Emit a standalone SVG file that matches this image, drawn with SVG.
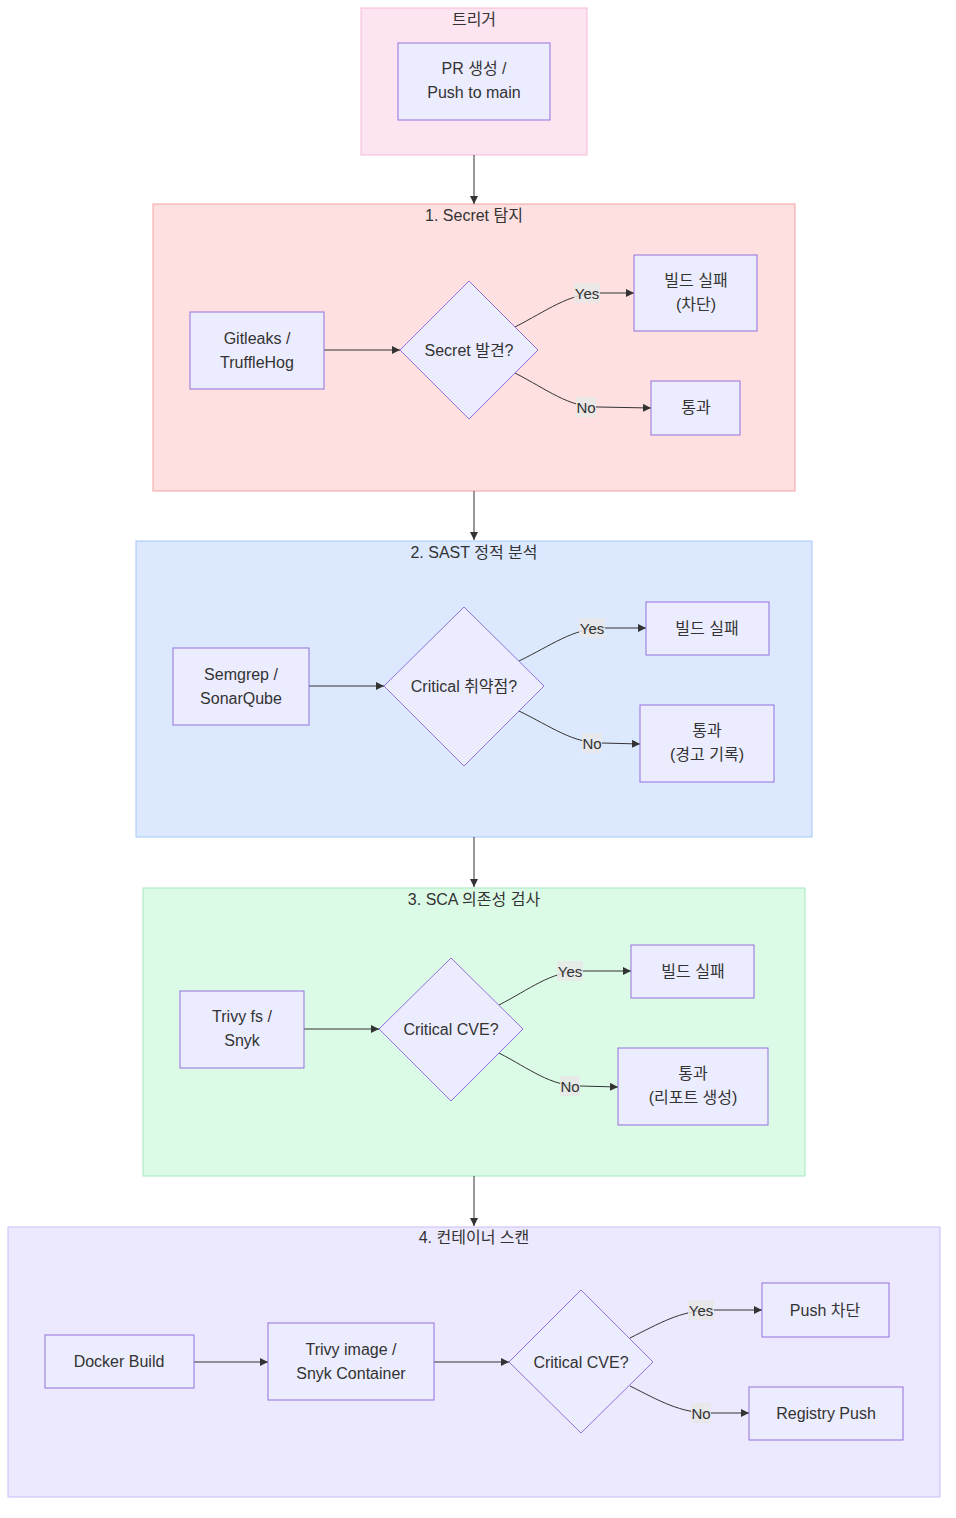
<svg xmlns="http://www.w3.org/2000/svg" width="956" height="1518" viewBox="0 0 956 1518">
<defs>
<marker id="arr" viewBox="0 0 10 10" refX="10" refY="5" markerWidth="8" markerHeight="8" orient="auto" markerUnits="userSpaceOnUse">
<path d="M0,0 L10,5 L0,10 z" fill="#333"/>
</marker>
</defs>
<style>
text{font-family:"Liberation Sans","Noto Sans CJK KR",sans-serif;fill:#333;text-anchor:middle;dominant-baseline:central}
.t{font-size:16px}
.lt{font-size:15px}
.node{fill:#ECECFF;stroke:#9370DB;stroke-width:1}
.edge{fill:none;stroke:#333;stroke-width:1;marker-end:url(#arr)}
.lbg{fill:#e8e8e8;opacity:0.85}
</style>
<rect width="956" height="1518" fill="#ffffff"/>
<g id="clusters">
<g id="c-trigger"><rect x="361" y="8" width="226" height="147" fill="#fce4f1" stroke="#f8b9d8"/><text class="t" x="474" y="19">트리거</text></g>
<g id="c-secret"><rect x="153" y="204" width="642" height="287" fill="#fee0e0" stroke="#f6a3a3"/><text class="t" x="474" y="215">1. Secret 탐지</text></g>
<g id="c-sast"><rect x="136" y="541" width="676" height="296" fill="#dbe8fd" stroke="#a5c8f6"/><text class="t" x="474" y="552">2. SAST 정적 분석</text></g>
<g id="c-sca"><rect x="143" y="888" width="662" height="288" fill="#dcfbe7" stroke="#a4e8bb"/><text class="t" x="474" y="899">3. SCA 의존성 검사</text></g>
<g id="c-container"><rect x="8" y="1227" width="932" height="270" fill="#ece8fd" stroke="#cbbdf8"/><text class="t" x="474" y="1237">4. 컨테이너 스캔</text></g>
</g>
<g id="edges">
<path class="edge" d="M474,155 L474,204"/>
<path class="edge" d="M474,491 L474,540"/>
<path class="edge" d="M474,837 L474,887"/>
<path class="edge" d="M474,1176 L474,1226"/>
<path class="edge" d="M324,350 L400,350"/>
<path class="edge" d="M515,327 C548,310 568,294 598,293 L634,293"/>
<path class="edge" d="M515,373 C548,390 568,407 598,407 L651,408"/>
<path class="edge" d="M309,686 L384,686"/>
<path class="edge" d="M519,661 C552,645 572,629 602,628 L646,628"/>
<path class="edge" d="M519,711 C552,727 572,743 602,743 L640,744"/>
<path class="edge" d="M304,1029 L379,1029"/>
<path class="edge" d="M499,1005 C530,989 550,972 580,971 L631,971"/>
<path class="edge" d="M499,1053 C530,1069 550,1086 580,1086 L618,1087"/>
<path class="edge" d="M194,1362 L268,1362"/>
<path class="edge" d="M434,1362 L509,1362"/>
<path class="edge" d="M630,1338 C660,1323 680,1311 710,1310 L762,1310"/>
<path class="edge" d="M630,1386 C660,1401 680,1413 710,1413 L749,1413"/>
</g>
<g id="edge-labels">
<rect class="lbg" x="574" y="283" width="26" height="20"/><text class="lt" x="587" y="293">Yes</text>
<rect class="lbg" x="576" y="397" width="20" height="20"/><text class="lt" x="586" y="407">No</text>
<rect class="lbg" x="579" y="618" width="26" height="20"/><text class="lt" x="592" y="628">Yes</text>
<rect class="lbg" x="582" y="733" width="20" height="20"/><text class="lt" x="592" y="743">No</text>
<rect class="lbg" x="557" y="961" width="26" height="20"/><text class="lt" x="570" y="971">Yes</text>
<rect class="lbg" x="560" y="1076" width="20" height="20"/><text class="lt" x="570" y="1086">No</text>
<rect class="lbg" x="688" y="1300" width="26" height="20"/><text class="lt" x="701" y="1310">Yes</text>
<rect class="lbg" x="691" y="1403" width="20" height="20"/><text class="lt" x="701" y="1413">No</text>
</g>
<g id="n-trigger"><rect class="node" x="398" y="43" width="152" height="77"/><text class="t" x="474" y="68">PR 생성 /</text><text class="t" x="474" y="92">Push to main</text></g>
<g id="n-gitleaks"><rect class="node" x="190" y="312" width="134" height="77"/><text class="t" x="257" y="338">Gitleaks /</text><text class="t" x="257" y="362">TruffleHog</text></g>
<g id="n-secret-q"><polygon class="node" points="469,281 538,350 469,419 400,350"/><text class="t" x="469" y="350">Secret 발견?</text></g>
<g id="n-secret-fail"><rect class="node" x="634" y="255" width="123" height="76"/><text class="t" x="696" y="280">빌드 실패</text><text class="t" x="696" y="304">(차단)</text></g>
<g id="n-secret-pass"><rect class="node" x="651" y="381" width="89" height="54"/><text class="t" x="696" y="407">통과</text></g>
<g id="n-semgrep"><rect class="node" x="173" y="648" width="136" height="77"/><text class="t" x="241" y="674">Semgrep /</text><text class="t" x="241" y="698">SonarQube</text></g>
<g id="n-sast-q"><polygon class="node" points="464,607 544,686 464,766 384,686"/><text class="t" x="464" y="686">Critical 취약점?</text></g>
<g id="n-sast-fail"><rect class="node" x="646" y="602" width="123" height="53"/><text class="t" x="707" y="628">빌드 실패</text></g>
<g id="n-sast-pass"><rect class="node" x="640" y="705" width="134" height="77"/><text class="t" x="707" y="730">통과</text><text class="t" x="707" y="754">(경고 기록)</text></g>
<g id="n-trivyfs"><rect class="node" x="180" y="991" width="124" height="77"/><text class="t" x="242" y="1016">Trivy fs /</text><text class="t" x="242" y="1040">Snyk</text></g>
<g id="n-sca-q"><polygon class="node" points="451,958 523,1029 451,1101 379,1029"/><text class="t" x="451" y="1029">Critical CVE?</text></g>
<g id="n-sca-fail"><rect class="node" x="631" y="945" width="123" height="53"/><text class="t" x="693" y="971">빌드 실패</text></g>
<g id="n-sca-pass"><rect class="node" x="618" y="1048" width="150" height="77"/><text class="t" x="693" y="1073">통과</text><text class="t" x="693" y="1097">(리포트 생성)</text></g>
<g id="n-docker"><rect class="node" x="45" y="1335" width="149" height="53"/><text class="t" x="119" y="1361">Docker Build</text></g>
<g id="n-trivyimg"><rect class="node" x="268" y="1323" width="166" height="77"/><text class="t" x="351" y="1349">Trivy image /</text><text class="t" x="351" y="1373">Snyk Container</text></g>
<g id="n-cont-q"><polygon class="node" points="581,1290 653,1362 581,1433 509,1362"/><text class="t" x="581" y="1362">Critical CVE?</text></g>
<g id="n-push-block"><rect class="node" x="762" y="1283" width="127" height="54"/><text class="t" x="825" y="1310">Push 차단</text></g>
<g id="n-registry"><rect class="node" x="749" y="1387" width="154" height="53"/><text class="t" x="826" y="1413">Registry Push</text></g>
</svg>
